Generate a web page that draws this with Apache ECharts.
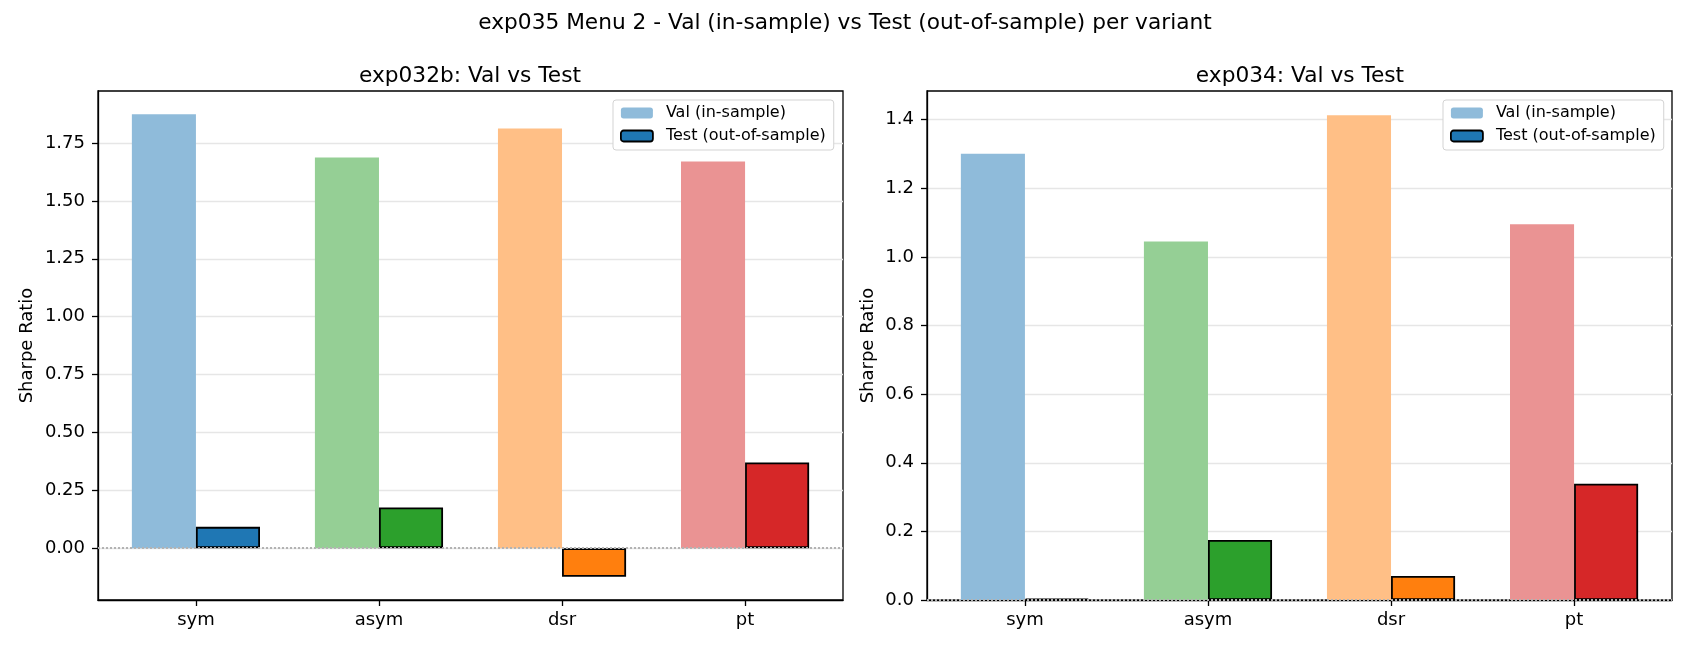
<!DOCTYPE html>
<html>
<head>
<meta charset="utf-8">
<script src="https://cdn.jsdelivr.net/npm/echarts@6/dist/echarts.min.js"></script>
<style>
  html, body { margin: 0; padding: 0; background: #fff; }
  #main { width: 1690px; height: 650px; }
</style>
</head>
<body>
<div id="main"></div>
<script>
var categories = ["sym", "asym", "dsr", "pt"];
var valLeft = [1.875, 1.688, 1.813, 1.670];
var testLeft = [0.092, 0.176, -0.124, 0.370];
var valRight = [1.301, 1.045, 1.413, 1.095];
var testRight = [0.004, 0.175, 0.070, 0.339];
var leftTicks = [0, 0.25, 0.5, 0.75, 1.0, 1.25, 1.5, 1.75];
var rightTicks = [0, 0.2, 0.4, 0.6, 0.8, 1.0, 1.2, 1.4];
var catTicks = [0, 1, 2, 3];
var testColors = ["#1f77b4", "#2ca02c", "#ff7f0e", "#d62728"];
var valColors = ["#8fbbda", "#95cf95", "#ffbf86", "#ea9393"];

var FONT = "DejaVu Sans";
var BAR = 0.35; // bar width in category units

// matplotlib-like 5% padding on a range
function padRange(vals, stickZero) {
  var lo = Math.min.apply(null, vals), hi = Math.max.apply(null, vals);
  var span = hi - lo;
  if (stickZero && lo >= 0) return [0, hi + span * 0.05];
  return [lo - span * 0.05, hi + span * 0.05];
}
var leftRange = padRange(valLeft.concat(testLeft), true);
var rightRange = padRange(valRight.concat(testRight, [0]), true);
var xRange = padRange([catTicks[0] - BAR, catTicks[catTicks.length - 1] + BAR], false);

var chartDom = document.getElementById("main");
var myChart = echarts.init(chartDom);
var option;

function yAxisFor(idx, range, ticks, digits, gap) {
  return {
    type: "value",
    gridIndex: idx,
    min: range[0],
    max: range[1],
    name: "Sharpe Ratio",
    nameLocation: "middle",
    nameRotate: 90,
    nameGap: gap,
    nameTextStyle: { fontFamily: FONT, fontSize: 18, color: "#000" },
    axisLine: { show: true, onZero: false, lineStyle: { color: "#000", width: 1.3 } },
    axisTick: { show: true, inside: false, length: 6, customValues: ticks, lineStyle: { color: "#000", width: 1.3 } },
    axisLabel: {
      customValues: ticks,
      margin: 13,
      fontFamily: FONT,
      fontSize: 18,
      color: "#000",
      formatter: function (v) { return Number(v).toFixed(digits); }
    },
    splitLine: { show: true, lineStyle: { color: "#e6e6e6", width: 1.3 } }
  };
}

function xAxisFor(idx) {
  return {
    type: "value",
    gridIndex: idx,
    min: xRange[0],
    max: xRange[1],
    axisLine: { show: true, onZero: false, lineStyle: { color: "#000", width: 1.3 } },
    axisTick: { show: true, length: 6, customValues: catTicks, lineStyle: { color: "#000", width: 1.3 } },
    axisLabel: {
      customValues: catTicks,
      margin: 11,
      fontFamily: FONT,
      fontSize: 18,
      color: "#000",
      formatter: function (v) { return categories[Math.round(v)]; }
    },
    splitLine: { show: false }
  };
}

var zeroLine = {
  silent: true,
  symbol: "none",
  label: { show: false },
  lineStyle: { color: "#b3b3b3", type: [2, 2], width: 2 },
  data: [{ yAxis: 0 }]
};

function legendFor(left) {
  return {
    orient: "vertical",
    left: left,
    top: 100,
    padding: [5, 8, 6, 7],
    itemGap: 7,
    itemWidth: 32,
    itemHeight: 11,
    borderColor: "#d3d3d3",
    borderWidth: 1,
    borderRadius: 3,
    backgroundColor: "#fff",
    selectedMode: false,
    textStyle: { fontFamily: FONT, fontSize: 16, color: "#000", padding: [0, 0, 0, 8] },
    data: [
      { name: "Val (in-sample)", itemStyle: { color: valColors[0], borderWidth: 0 } },
      { name: "Test (out-of-sample)", itemStyle: { color: testColors[0], borderColor: "#000", borderWidth: 1.8 } }
    ]
  };
}

function barSeries(name, idx, vals, colors, isTest) {
  var s = {
    name: name,
    type: "bar",
    xAxisIndex: idx,
    yAxisIndex: idx,
    barWidth: (BAR * 100) + "%",
    barGap: "0%",
    data: vals.map(function (v, i) {
      return { value: [catTicks[i], v], itemStyle: { color: colors[i] } };
    }),
    itemStyle: isTest
      ? { color: colors[0], borderColor: "#000", borderWidth: 1.8 }
      : { color: colors[0], borderWidth: 0 },
    emphasis: { disabled: true }
  };
  if (isTest) s.markLine = zeroLine;
  return s;
}

var titleStyle = { fontFamily: FONT, fontSize: 21.7, fontWeight: "normal", color: "#000" };

option = {
  animation: false,
  backgroundColor: "#fff",
  textStyle: { fontFamily: FONT },
  title: [
    {
      text: "exp035 Menu 2 - Val (in-sample) vs Test (out-of-sample) per variant",
      left: 845, top: 12, textAlign: "center", padding: 0, textStyle: titleStyle
    },
    {
      text: "exp032b: Val vs Test",
      left: 470, top: 65, textAlign: "center", padding: 0, textStyle: titleStyle
    },
    {
      text: "exp034: Val vs Test",
      left: 1300, top: 65, textAlign: "center", padding: 0, textStyle: titleStyle
    }
  ],
  legend: [legendFor(613), legendFor(1443)],
  grid: [
    { left: 98, right: 847, top: 91, bottom: 50, show: true, borderColor: "#000", borderWidth: 1.3 },
    { left: 927, right: 18, top: 91, bottom: 50, show: true, borderColor: "#000", borderWidth: 1.3 }
  ],
  xAxis: [xAxisFor(0), xAxisFor(1)],
  yAxis: [
    yAxisFor(0, leftRange, leftTicks, 2, 62),
    yAxisFor(1, rightRange, rightTicks, 1, 50)
  ],
  series: [
    barSeries("Val (in-sample)", 0, valLeft, valColors, false),
    barSeries("Test (out-of-sample)", 0, testLeft, testColors, true),
    barSeries("Val (in-sample)", 1, valRight, valColors, false),
    barSeries("Test (out-of-sample)", 1, testRight, testColors, true)
  ]
};

option && myChart.setOption(option);
</script>
</body>
</html>
